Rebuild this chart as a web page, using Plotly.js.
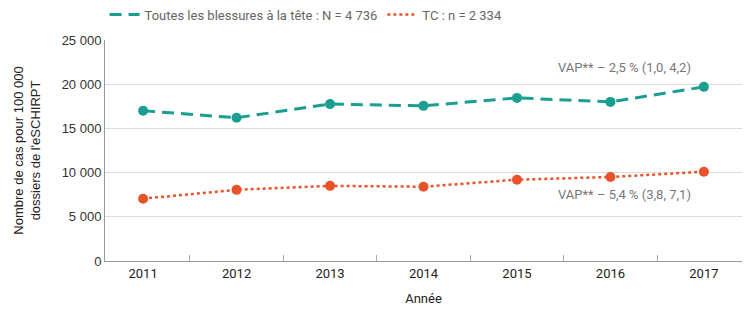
<!DOCTYPE html>
<html><head><meta charset="utf-8">
<script src="https://cdn.plot.ly/plotly-3.0.1.min.js"></script>
<style>body{margin:0;padding:0;background:#fff}#c{width:747px;height:326px}</style>
</head><body><div id="c"></div>
<script>
const years = ['2011','2012','2013','2014','2015','2016','2017'];
const toutes = [17000, 16200, 17750, 17550, 18450, 18000, 19700];
const tc = [7050, 8050, 8500, 8400, 9200, 9500, 10100];
const yTicks = [0, 5000, 10000, 15000, 20000, 25000];
const yTickText = ['0', '5 000', '10 000', '15 000', '20 000', '25 000'];
const nameToutes = 'Toutes les blessures à la tête : N = 4 736';
const nameTC = 'TC : n = 2 334';
const teal = '#1a9e8f', orange = '#e8532b';
const font = 'Liberation Sans Narrow, Roboto, sans-serif';
const dashT = '12px,7px';
const data = [
  {x: years, y: toutes, type: 'scatter', mode: 'lines+markers', showlegend: false,
   line: {color: teal, width: 3, dash: dashT}, marker: {color: teal, size: 10}},
  {x: years, y: tc, type: 'scatter', mode: 'lines+markers', showlegend: false,
   line: {color: orange, width: 2.5, dash: 'dot'}, marker: {color: orange, size: 10}},
  {x: [years[0]], y: [null], type: 'scatter', mode: 'lines', name: nameToutes,
   line: {color: teal, width: 3, dash: dashT}},
  {x: [years[0]], y: [null], type: 'scatter', mode: 'lines', name: nameTC,
   line: {color: orange, width: 2.5, dash: 'dot'}}
];
const layout = {
  width: 747, height: 326,
  margin: {l: 105, r: 5, t: 40, b: 65},
  paper_bgcolor: '#fff', plot_bgcolor: '#fff',
  font: {family: font, size: 13, color: '#333'},
  showlegend: true,
  legend: {orientation: 'h', xref: 'container', yref: 'container', x: 0.14, xanchor: 'left', y: 0.955, yanchor: 'middle',
    font: {family: font, size: 13, color: '#666'}, tracegroupgap: 0},
  xaxis: {type: 'category', tickson: 'boundaries', ticks: 'inside', ticklen: 6, tickcolor: '#aaa',
    showline: true, linecolor: '#999', linewidth: 1, showgrid: false, zeroline: false,
    tickfont: {family: font, size: 13, color: '#222'},
    title: {text: 'Année', font: {family: font, size: 13, color: '#222'}, standoff: 14}},
  yaxis: {range: [0, 25000], tickvals: yTicks, ticktext: yTickText, ticks: '',
    showline: true, linecolor: '#999', linewidth: 1, gridcolor: '#dcdcdc', zeroline: false,
    tickfont: {family: 'Liberation Sans, Arial, sans-serif', size: 13, color: '#333'},
    title: {text: 'Nombre de cas pour 100 000<br>dossiers de l\'eSCHIRPT',
      font: {family: 'Liberation Sans, Arial, sans-serif', size: 13, color: '#222'}, standoff: 18}},
  annotations: [
    {x: 5.15, y: 21900, xref: 'x', yref: 'y', text: 'VAP** – 2,5 % (1,0, 4,2)', showarrow: false,
     font: {family: font, size: 13, color: '#777'}},
    {x: 5.15, y: 7500, xref: 'x', yref: 'y', text: 'VAP** – 5,4 % (3,8, 7,1)', showarrow: false,
     font: {family: font, size: 13, color: '#777'}}
  ]
};
Plotly.newPlot('c', data, layout, {displayModeBar: false, staticPlot: true});
</script></body></html>
